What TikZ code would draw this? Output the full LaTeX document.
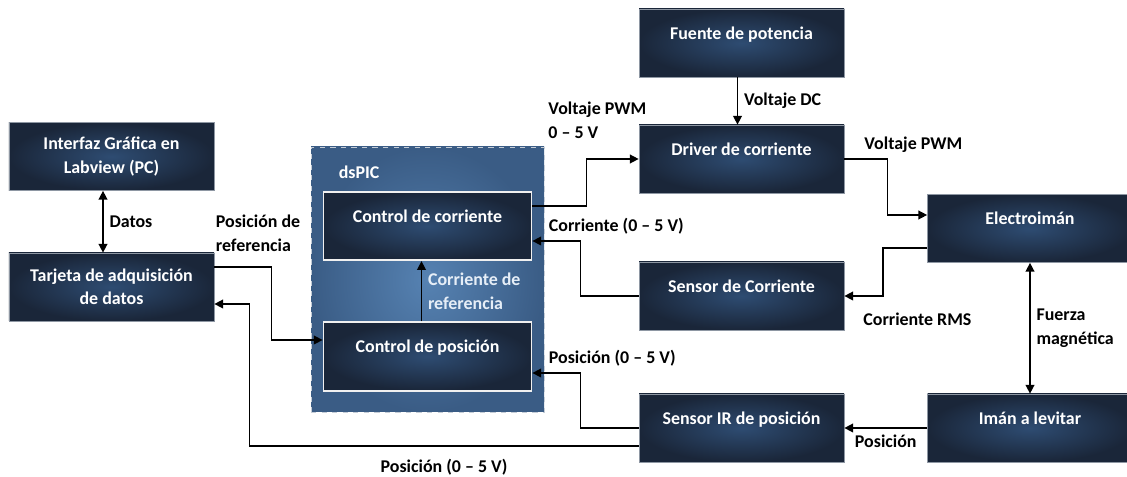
\documentclass[tikz,border=0pt]{standalone}
\usepackage{fontspec}
\setmainfont{Carlito}
\usepackage{xcolor}
\usepackage{tikz}
\definecolor{navyedge}{HTML}{1A2639}
\definecolor{navymid}{HTML}{2E4C72}
\definecolor{picedge}{HTML}{3A5C85}
\definecolor{picmid}{HTML}{5682B2}
\definecolor{picline}{HTML}{C4CCD6}
\definecolor{boxline}{HTML}{8E97A3}
\definecolor{reflight}{HTML}{E6EEF7}
\usetikzlibrary{arrows.meta, shadings}

\tikzset{
	block/.style={draw=boxline, rectangle, align=center, minimum width=4.1cm, minimum height=1.36cm, shading=radial, inner color=navymid, outer color=navyedge, text=white, font=\fontsize{10.2}{13.2}\selectfont\bfseries},
	oneline/.style={text height=7pt, text depth=11.2pt},
	ctrlblock/.style={block, draw=white!88!gray, line width=1pt, minimum width=4.16cm, minimum height=1.37cm},
	lbl/.style={font=\fontsize{10.2}{13.6}\selectfont\bfseries, align=left}
}

\begin{document}
\begin{tikzpicture}[>={Triangle[length=5pt,width=5pt]}, node distance=1cm]
	\useasboundingbox (0,0) rectangle (22.54,-9.54);
	
	\node[block] (interfaz) at (2.23,-3.13) {Interfaz Gráfica en\\Labview (PC)};
	
	\node[block, below of= interfaz, yshift=-1.61cm] (tarjeta) {Tarjeta de adquisición\\de datos};
	
	\node[draw=picline, dashed, rectangle, minimum width=4.66cm, minimum height=5.3cm, shading=radial, inner color=picmid, outer color=picedge, right of= tarjeta, xshift=5.32cm, yshift=.15cm] (dspic) {};
	
	\node[lbl, text=white, anchor=north west, xshift=.44cm, yshift=-.26cm] (dspiclbl) at (dspic.north west) {dsPIC};
	
	\node[ctrlblock, oneline, above of= dspic, yshift=.07cm] (ccorr) {Control de corriente};
	
	\node[ctrlblock, oneline, below of= ccorr, yshift=-1.61cm] (cpos) {Control de posición};
	
	\node[block, oneline, right of= ccorr, xshift=5.28cm, yshift=1.34cm] (driver) {Driver de corriente};
	
	\node[block, oneline, above of= driver, yshift=1.32cm] (fuente) {Fuente de potencia};
	
	\node[block, oneline, below of= driver, yshift=-1.74cm] (sensorc) {Sensor de Corriente};
	
	\node[block, oneline, below of= sensorc, yshift=-1.64cm] (sensorir) {Sensor IR de posición};
	
	\node[block, oneline, right of= sensorir, xshift=4.77cm] (iman) {Imán a levitar};
	
	\node[block, oneline, above of= iman, yshift=2.99cm] (electro) {Electroimán};
	
	\draw[<->, thick] ([xshift=-.17cm]interfaz.south) -- node[lbl, right] {Datos} ([xshift=-.17cm]tarjeta.north);
	
	\draw[->, thick] ([yshift=.4cm]tarjeta.east) -- node[lbl, pos=0, anchor=south west, xshift=-.1cm, yshift=.18cm] {Posición de\\referencia} ++(1.14,0) |- ([yshift=.33cm]cpos.west);
	
	\draw[->, thick] ([xshift=-.12cm]cpos.north) -- node[lbl, right, text=reflight] {Corriente de\\referencia} ([xshift=-.12cm]ccorr.south);
	
	\draw[->, thick] ([yshift=.4cm]ccorr.east) -- ++(1.08,0) |- node[lbl, pos=.5, anchor=south, xshift=.22cm, yshift=.28cm] {Voltaje PWM\\0 – 5 V} (driver.west);
	
	\draw[->, thick] ([xshift=-.08cm]fuente.south) -- node[lbl, right] {Voltaje DC} ([xshift=-.08cm]driver.north);
	
	\draw[->, thick] (driver.east) -- ++(.86,0) node[lbl, above, xshift=.52cm] {Voltaje PWM} |- ([yshift=.27cm]electro.west);
	
	\draw[->, thick] ([yshift=-.39cm]electro.west) -- ++(-.88,0) |- (sensorc.east) node[lbl, below right, xshift=.25cm, yshift=-.2cm] {Corriente RMS};
	
	\draw[->, thick] (sensorc.west) -- ++(-1.16,0) |- ([yshift=-.3cm]ccorr.east) node[lbl, above right, xshift=.2cm] {Corriente (0 – 5 V)};
	
	\draw[<->, thick] (electro) -- node[lbl, right] {Fuerza\\magnética} (iman);
	
	\draw[->, thick] (iman.west) -- node[lbl, below] {Posición} (sensorir.east);
	
	\draw[->, thick] (sensorir.west) -- ++(-1.16,0) |- ([yshift=-.33cm]cpos.east) node[lbl, above right, xshift=.2cm] {Posición (0 – 5 V)};
	
	\draw[->, thick] ([yshift=-.36cm]sensorir.west) -| node[lbl, pos=.25, below, yshift=-.14cm] {Posición (0 – 5 V)} ([xshift=.7cm, yshift=-.34cm]tarjeta.east) -- ([yshift=-.34cm]tarjeta.east);
\end{tikzpicture}
\end{document}
